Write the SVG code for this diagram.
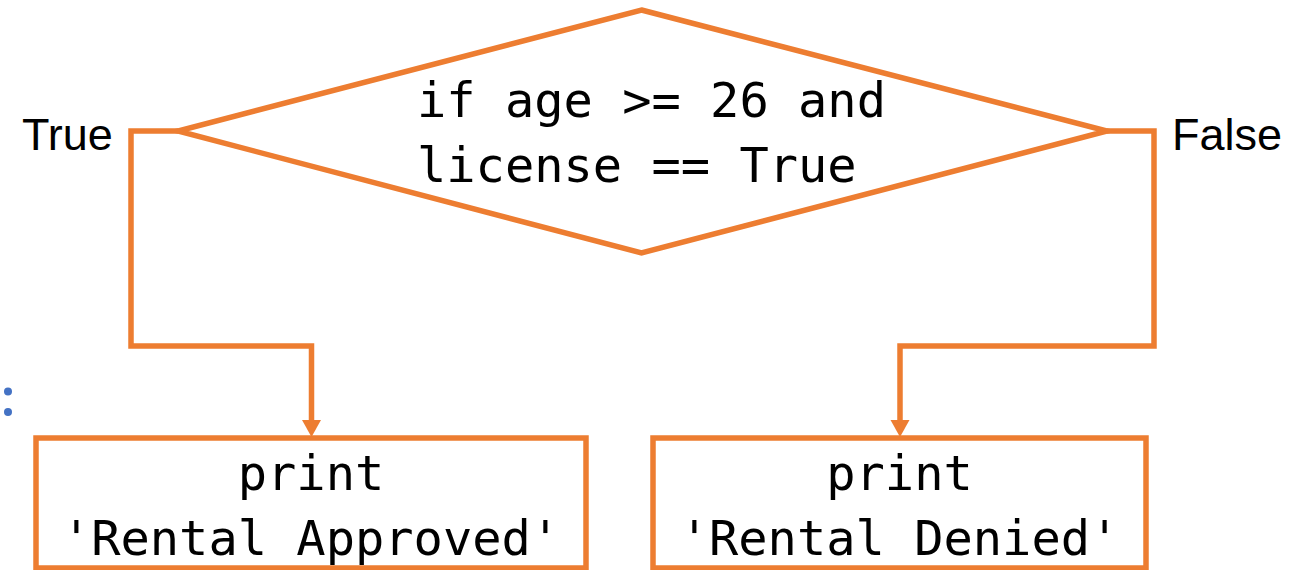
<svg xmlns="http://www.w3.org/2000/svg" width="1296" height="570" viewBox="0 0 1296 570">
<defs>
<style>
.shape{fill:#FFFFFF;stroke:#ED7D31;stroke-width:5.5}
.conn{fill:none;stroke:#ED7D31;stroke-width:5.5;stroke-linejoin:miter}
.head{fill:#ED7D31;stroke:none}
.code{font-family:"DejaVu Sans Mono","Liberation Mono",monospace;font-size:48.7px;fill:#000000}
.lbl{font-family:"Liberation Sans",Arial,sans-serif;font-size:45px;fill:#000000}
.dot{fill:#4472C4}
</style>
</defs>
<rect width="1296" height="570" fill="#FFFFFF"/>
<g id="bullets">
<circle class="dot" cx="8" cy="391.5" r="4"/>
<circle class="dot" cx="8" cy="412" r="4"/>
</g>
<g id="connectors">
<path class="conn" d="M178,131 H131 V346 H311.5 V421"/>
<polygon class="head" points="302,420 321,420 311.5,437"/>
<path class="conn" d="M1107,131 H1154 V346 H900 V421"/>
<polygon class="head" points="890.5,420 909.5,420 900,437"/>
<text class="lbl" x="22" y="150">True</text>
<text class="lbl" x="1172" y="150">False</text>
</g>
<g id="decision">
<polygon class="shape" points="641.5,10 1107,131 641.5,253 178,131"/>
<text class="code" x="417" y="117">if age &gt;= 26 and</text>
<text class="code" x="417" y="182">license == True</text>
</g>
<g id="approved">
<rect class="shape" x="36" y="438" width="550" height="130"/>
<text class="code" x="311" y="490" text-anchor="middle">print</text>
<text class="code" x="311" y="555" text-anchor="middle">'Rental Approved'</text>
</g>
<g id="denied">
<rect class="shape" x="653" y="438" width="493" height="130"/>
<text class="code" x="899.5" y="490" text-anchor="middle">print</text>
<text class="code" x="899.5" y="555" text-anchor="middle">'Rental Denied'</text>
</g>
</svg>
